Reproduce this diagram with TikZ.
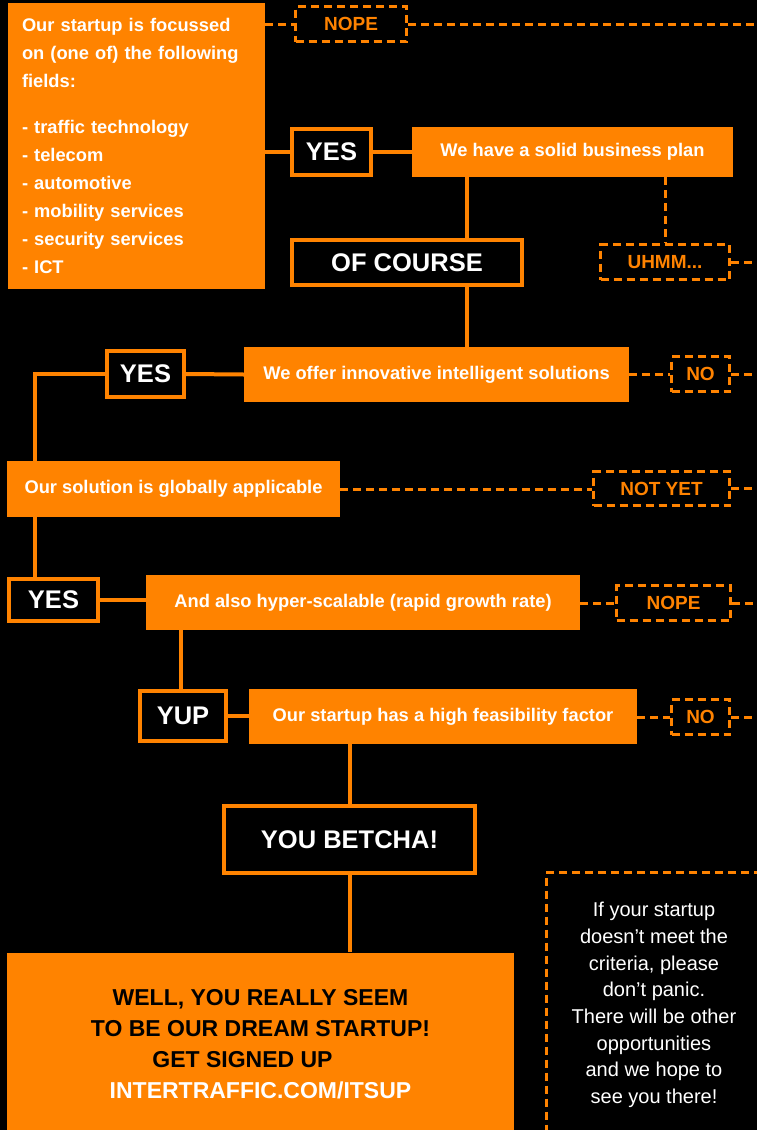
\documentclass[tikz,border=0pt]{standalone}
\usepackage{fontspec}
\setmainfont{Liberation Sans}
\definecolor{itorange}{RGB}{255,131,0}

\begin{document}
\begin{tikzpicture}[x=1pt, y=-1pt,
    question/.style={fill=itorange, text=white, inner sep=0pt, font=\bfseries\fontsize{18.3}{28}\selectfont},
    answer/.style={fill=black, draw=itorange, line width=4pt, text=white, inner sep=0pt, font=\bfseries\fontsize{25.5}{30}\selectfont},
    nobox/.style={draw=itorange, line width=3pt, dash pattern=on 8pt off 5pt, text=itorange, inner sep=0pt, font=\bfseries\fontsize{19}{22}\selectfont},
    link/.style={draw=itorange, line width=4pt},
    dashlink/.style={draw=itorange, line width=3pt, dash pattern=on 8pt off 5pt}
]
\useasboundingbox (0,0) rectangle (757,1130);
\fill[black] (0,0) rectangle (757,1130);
\coordinate (edge) at (762,0);

% Vragen
\node[question, text width=229pt, inner xsep=14pt, minimum height=286pt, align=left] (fields) at (136.5,146) {Our startup is focussed\\ on (one of) the following\\ fields:\\[18pt]
- traffic technology\\ - telecom\\ - automotive\\ - mobility services\\ - security services\\ - ICT};
\node[question, minimum width=321pt, minimum height=50pt] (plan) at (572.5,152) {We have a solid business plan};
\node[question, minimum width=385pt, minimum height=55pt] (innov) at (436.5,374.5) {We offer innovative intelligent solutions};
\node[question, minimum width=333pt, minimum height=56pt] (global) at (173.5,489) {Our solution is globally applicable};
\node[question, minimum width=434pt, minimum height=55pt] (hyper) at (363,602.5) {And also hyper-scalable (rapid growth rate)};
\node[question, minimum width=388pt, minimum height=55pt] (feas) at (443,716.5) {Our startup has a high feasibility factor};
\node[question, minimum width=507pt, minimum height=184pt, align=center, font=\bfseries\fontsize{23}{31}\selectfont, text=black] (final) at (260.5,1044.5) {WELL, YOU REALLY SEEM\\ TO BE OUR DREAM STARTUP!\\ GET SIGNED UP\rule{36pt}{0pt}\\ \textcolor{white}{INTERTRAFFIC.COM/ITSUP}};

% Antwoorden
\node[answer, minimum width=79pt, minimum height=46pt] (yes1) at (331.5,152) {YES};
\node[answer, minimum width=230pt, minimum height=45pt] (ofcourse) at (407,262.5) {OF COURSE};
\node[answer, minimum width=77pt, minimum height=46pt] (yes2) at (145.5,374) {YES};
\node[answer, minimum width=89pt, minimum height=42pt] (yes3) at (53.5,600) {YES};
\node[answer, minimum width=86pt, minimum height=50pt] (yup) at (183,716) {YUP};
\node[answer, minimum width=251pt, minimum height=67pt] (betcha) at (349.5,839.5) {YOU BETCHA!};

% Nee
\node[nobox, minimum width=111pt, minimum height=35pt] (nope1) at (351,24) {NOPE};
\node[nobox, minimum width=129pt, minimum height=35pt] (uhmm) at (665,262) {UHMM...};
\node[nobox, minimum width=58pt, minimum height=35pt] (no1) at (700.5,374) {NO};
\node[nobox, minimum width=136pt, minimum height=34pt] (notyet) at (661.5,488.5) {NOT YET};
\node[nobox, minimum width=114pt, minimum height=35pt] (nope2) at (673.5,603) {NOPE};
\node[nobox, minimum width=58pt, minimum height=35pt] (no2) at (700.5,717) {NO};

% Toelichting
\node[nobox, minimum width=216pt, minimum height=265pt, align=center, text=white, font=\fontsize{20}{26.7}\selectfont] (note) at (654,1005) {If your startup\\ doesn’t meet the\\ criteria, please\\ don’t panic.\\ There will be other\\ opportunities\\ and we hope to\\ see you there!};

% Lijnen
\draw[link] (yes1.west -| fields.east) -- (yes1.west);
\draw[link] (yes1.east) -- (plan.west);
\draw[link] ([xshift=60pt]ofcourse.north |- plan.south) -- ([xshift=60pt]ofcourse.north);
\draw[link] ([xshift=60pt]ofcourse.south) -- ([xshift=60pt]ofcourse.south |- innov.north);
\draw[link] (yes2.east) -- (innov.west);
\draw[link] (yes2.west) -| ([xshift=28pt]global.north west);
\draw[link] ([xshift=28pt]global.south west) -- ([xshift=28pt]global.south west |- yes3.north);
\draw[link] (yes3.east) -- (yes3.east -| hyper.west);
\draw[link] ([xshift=35pt]hyper.south west) -- ([xshift=35pt]hyper.south west |- yup.north);
\draw[link] (yup.east) -- (yup.east -| feas.west);
\draw[link] (betcha.north |- feas.south) -- (betcha.north);
\draw[link] (betcha.south) -- (betcha.south |- final.north);

\draw[dashlink] (nope1.west -| fields.east) -- (nope1.west);
\draw[dashlink] (nope1.east) -- (nope1.east -| edge);
\draw[dashlink] (uhmm.north |- plan.south) -- (uhmm.north);
\draw[dashlink] (uhmm.east) -- (uhmm.east -| edge);
\draw[dashlink] (innov.east) -- (innov.east -| no1.west);
\draw[dashlink] (no1.east) -- (no1.east -| edge);
\draw[dashlink] (global.east) -- (global.east -| notyet.west);
\draw[dashlink] (notyet.east) -- (notyet.east -| edge);
\draw[dashlink] (nope2.west -| hyper.east) -- (nope2.west);
\draw[dashlink] (nope2.east) -- (nope2.east -| edge);
\draw[dashlink] (no2.west -| feas.east) -- (no2.west);
\draw[dashlink] (no2.east) -- (no2.east -| edge);
\end{tikzpicture}
\end{document}
